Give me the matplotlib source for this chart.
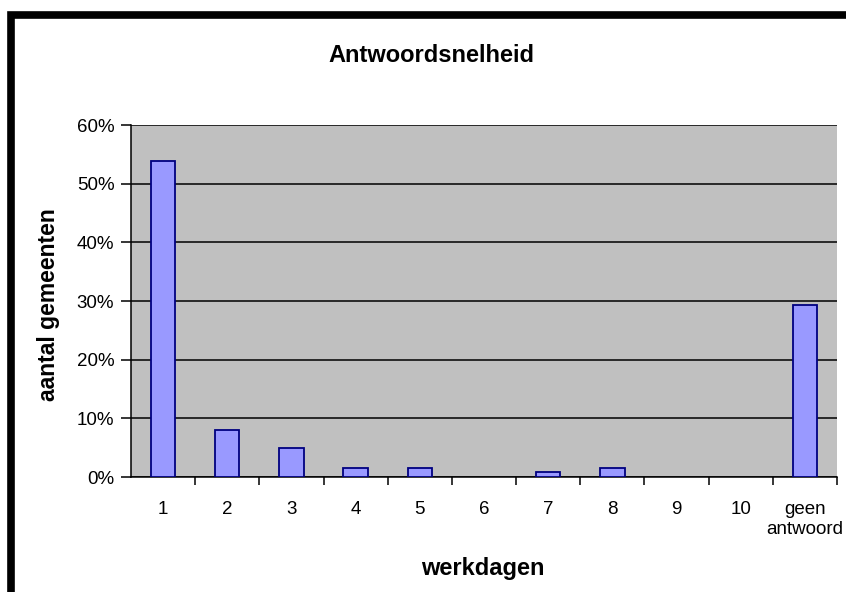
import matplotlib

matplotlib.use("Agg")
import matplotlib.pyplot as plt
from matplotlib.patches import Rectangle
from matplotlib.ticker import FixedLocator, PercentFormatter

plt.rcParams["font.family"] = ["Liberation Sans", "DejaVu Sans"]

categories = ["1", "2", "3", "4", "5", "6", "7", "8", "9", "10", "geen\nantwoord"]
shares = [53.8, 8.0, 5.0, 1.6, 1.6, 0.0, 0.9, 1.6, 0.0, 0.0, 29.3]

W, H = 846, 592
figure = plt.figure(figsize=(W / 100, H / 100), dpi=100)
figure.patches.append(
    Rectangle((11 / W, -0.1), 1.2, 1.1 - 15 / H, transform=figure.transFigure,
              fill=False, edgecolor="black", linewidth=5.5)
)
axis = figure.add_axes([131 / W, 115 / H, 706 / W, 352 / H])
axis.set_facecolor("#C0C0C0")

positions = list(range(len(categories)))
edges = ["#000080" if v > 0 else "none" for v in shares]
axis.bar(positions, shares, width=0.38, color="#9999FF", edgecolor=edges,
         linewidth=1.3, zorder=3)

axis.set_xlim(-0.5, len(categories) - 0.5)
axis.set_ylim(0, 60)
axis.set_yticks(range(0, 61, 10))
axis.yaxis.set_major_formatter(PercentFormatter(decimals=0))
axis.grid(axis="y", color="black", linewidth=1.1, zorder=1)

axis.set_xticks(positions, categories)
axis.xaxis.set_minor_locator(FixedLocator([p + 0.5 for p in positions]))
axis.tick_params(axis="x", which="major", length=0, pad=17, labelsize=13.5)
axis.tick_params(axis="x", which="minor", length=6, width=1.1, direction="out")
axis.tick_params(axis="y", length=7, width=1.1, labelsize=13.5, pad=5)
for label in axis.get_xticklabels():
    label.set_linespacing(1.25)

for side in ("top", "right"):
    axis.spines[side].set_visible(False)
for side in ("left", "bottom"):
    axis.spines[side].set_linewidth(1.1)

figure.text(431 / W, 1 - 55 / H, "Antwoordsnelheid", fontsize=17,
            fontweight="bold", ha="center", va="center")
figure.text(483 / W, 1 - 568 / H, "werkdagen", fontsize=17,
            fontweight="bold", ha="center", va="center")
figure.text(48 / W, 1 - 305 / H, "aantal gemeenten", fontsize=16.5,
            fontweight="bold", ha="center", va="center", rotation=90)

figure.savefig("out.png", dpi=100)
